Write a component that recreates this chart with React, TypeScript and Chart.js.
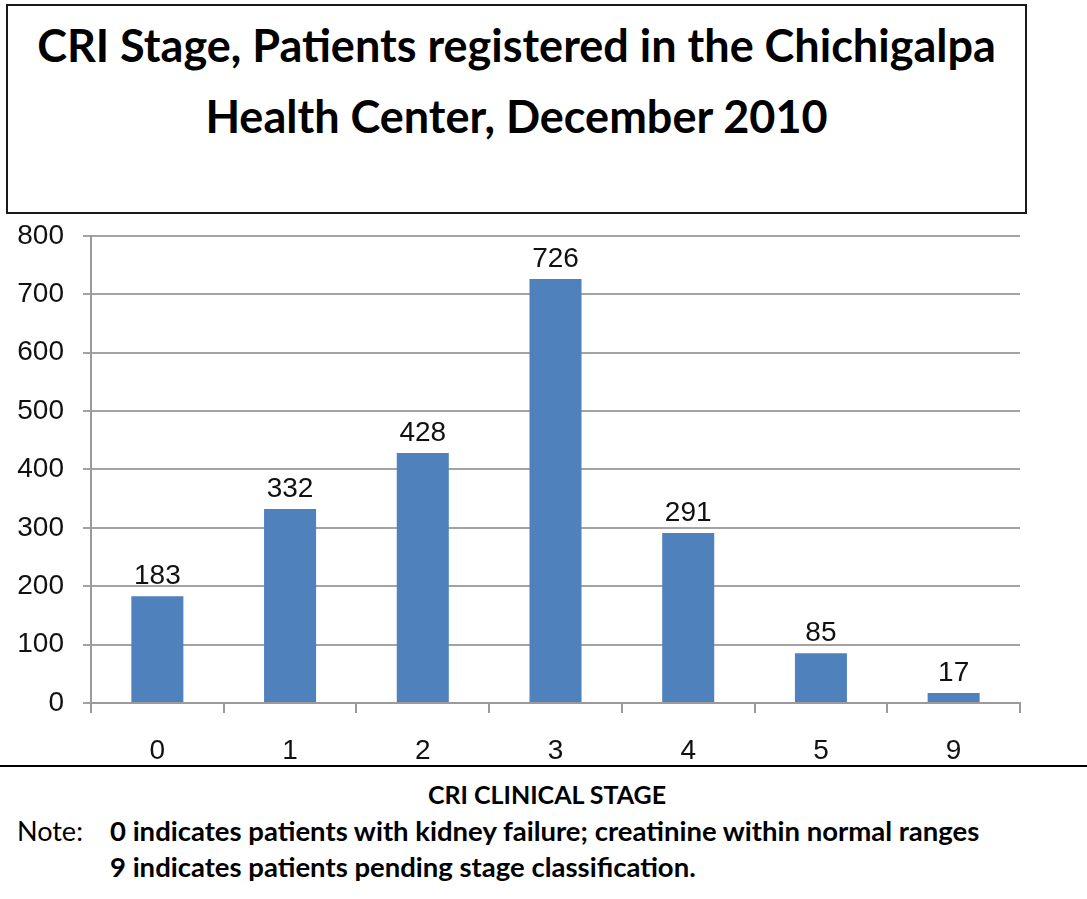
import React, { useEffect, useRef } from 'react';
import { Chart, registerables } from 'chart.js';

Chart.register(...registerables);

// ---- Data ----
const categories = ['0', '1', '2', '3', '4', '5', '9'];
const patients = [183, 332, 428, 726, 291, 85, 17];
const yMin = 0;
const yMax = 800;
const yStep = 100;
const titleLines = [
  'CRI Stage, Patients registered in the Chichigalpa',
  'Health Center, December 2010',
];
const axisTitle = 'CRI CLINICAL STAGE';
const noteLabel = 'Note:';
const noteLines = [
  '0 indicates patients with kidney failure; creatinine within normal ranges',
  '9 indicates patients pending stage classification.',
];

const CHART_FONT = '"Liberation Sans", Arial, Helvetica, sans-serif';
const TEXT_FONT = 'Lato, "Open Sans", sans-serif';

const valueLabels = {
  id: 'valueLabels',
  afterDatasetsDraw(chart: any) {
    const ctx = chart.ctx;
    const meta = chart.getDatasetMeta(0);
    const values = chart.data.datasets[0].data;
    ctx.save();
    ctx.font = `28px ${CHART_FONT}`;
    ctx.fillStyle = '#111111';
    ctx.textAlign = 'center';
    ctx.textBaseline = 'alphabetic';
    meta.data.forEach((bar: any, i: number) => {
      ctx.fillText(String(values[i]), bar.x, bar.y - 12);
    });
    ctx.restore();
  },
};

function BarChart() {
  const ref = useRef<HTMLCanvasElement | null>(null);
  useEffect(() => {
    if (!ref.current) return;
    const chart = new Chart(ref.current, {
      type: 'bar',
      data: {
        labels: categories,
        datasets: [
          {
            data: patients,
            backgroundColor: '#4F81BD',
            borderWidth: 0,
            categoryPercentage: 0.8,
            barPercentage: 0.49,
          },
        ],
      },
      options: {
        responsive: false,
        animation: false,
        events: [],
        layout: { padding: { top: 35, right: 67, left: 0, bottom: 0 } },
        plugins: {
          legend: { display: false },
          tooltip: { enabled: false },
          title: { display: false },
        },
        scales: {
          x: {
            grid: {
              display: true,
              drawOnChartArea: false,
              drawTicks: true,
              tickLength: 10,
              color: '#9a9a9a',
              lineWidth: 2,
              offset: true,
            },
            border: { display: true, color: '#9a9a9a', width: 2 },
            ticks: {
              color: '#111111',
              font: { family: CHART_FONT, size: 28 },
              padding: 21,
              maxRotation: 0,
            },
            afterFit: (s: any) => {
              s.height = 67;
            },
          },
          y: {
            min: yMin,
            max: yMax,
            grid: {
              color: '#a3a3a3',
              lineWidth: 2,
              drawTicks: true,
              tickLength: 8,
            },
            border: { display: true, color: '#9a9a9a', width: 2 },
            ticks: {
              stepSize: yStep,
              color: '#111111',
              font: { family: CHART_FONT, size: 28 },
              padding: 19,
            },
            afterFit: (s: any) => {
              s.width = 91;
            },
          },
        },
      },
      plugins: [valueLabels],
    });
    return () => chart.destroy();
  }, []);
  return (
    <canvas
      ref={ref}
      width={1087}
      height={570}
      style={{ position: 'absolute', left: 0, top: 200, width: 1087, height: 570, display: 'block' }}
    />
  );
}

export default function App() {
  const abs = (o: React.CSSProperties): React.CSSProperties => ({ position: 'absolute', margin: 0, padding: 0, ...o });
  return (
    <div style={abs({ left: 0, top: 0, width: 1087, height: 899, background: '#fff', overflow: 'hidden' })}>
      <div
        style={abs({
          left: 6,
          top: 4,
          width: 1021,
          height: 210,
          border: '2px solid #1a1a1a',
          boxSizing: 'border-box',
        })}
      />
      {titleLines.map((t, i) => (
        <div
          key={t}
          style={abs({
            left: 7,
            width: 1019,
            top: i === 0 ? 18 : 89,
            textAlign: 'center',
            fontFamily: TEXT_FONT,
            fontWeight: 700,
            fontSize: 45,
            lineHeight: '54px',
            color: '#000',
            whiteSpace: 'nowrap',
          })}
        >
          {t}
        </div>
      ))}
      <BarChart />
      <div style={abs({ left: 0, top: 765, width: 1087, height: 2, background: '#000' })} />
      <div
        style={abs({
          left: 347,
          width: 400,
          top: 779,
          textAlign: 'center',
          fontFamily: TEXT_FONT,
          fontWeight: 700,
          fontSize: 25,
          lineHeight: '30px',
          color: '#000',
          whiteSpace: 'nowrap',
        })}
      >
        {axisTitle}
      </div>
      <div
        style={abs({
          left: 17,
          top: 814,
          fontFamily: TEXT_FONT,
          fontWeight: 400,
          fontSize: 27,
          lineHeight: '33px',
          color: '#000',
          whiteSpace: 'nowrap',
        })}
      >
        {noteLabel}
      </div>
      {noteLines.map((t, i) => (
        <div
          key={t}
          style={abs({
            left: 110,
            top: i === 0 ? 814 : 850,
            fontFamily: TEXT_FONT,
            fontWeight: 700,
            fontSize: 27.5,
            lineHeight: '33px',
            color: '#000',
            whiteSpace: 'nowrap',
          })}
        >
          {t}
        </div>
      ))}
    </div>
  );
}
